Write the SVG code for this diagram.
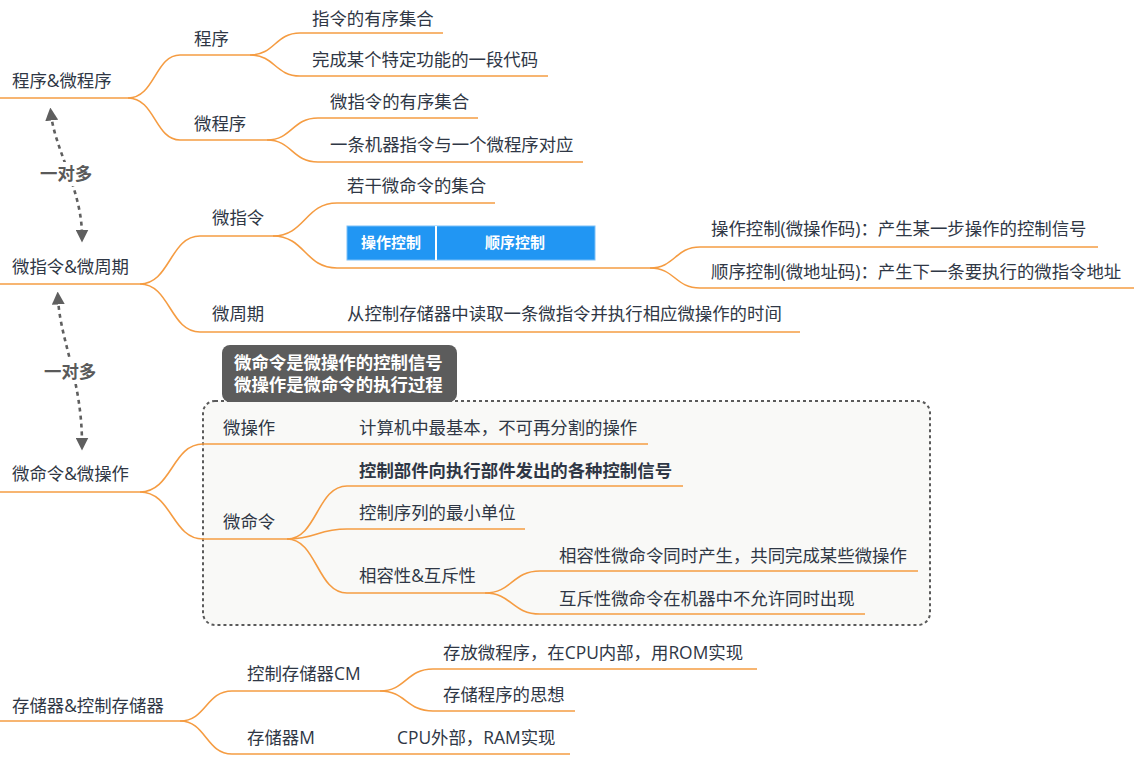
<svg xmlns="http://www.w3.org/2000/svg" width="1134" height="761" viewBox="0 0 1134 761">
<style>
  text { font-family: "Open Sans", "Noto Sans CJK SC", sans-serif; font-size: 17.4px; fill: #2f3745; }
  .b { font-weight: bold; }
  .ln { fill: none; stroke: #f59c42; stroke-width: 1.6; }
  .rel { fill: none; stroke: #5f5f5f; stroke-width: 2.6; stroke-dasharray: 4 4; }
  .rl { font-weight: bold; fill: #5a5a5a; }
  .tb { font-size: 15px; font-weight: bold; fill: #ffffff; }
  .nt { font-weight: bold; fill: #ffffff; }
</style>
<defs>
  <marker id="ah" viewBox="0 0 10 10" refX="5" refY="5" markerWidth="5" markerHeight="5" orient="auto-start-reverse" markerUnits="strokeWidth">
    <path d="M0 0 L10 5 L0 10 Z" fill="#5f5f5f"/>
  </marker>
</defs>
<rect width="1134" height="761" fill="#ffffff"/>

<!-- boundary -->
<g id="boundary">
  <rect x="203" y="401" width="727" height="224" rx="12" fill="#f9f9f7" stroke="#5a5a5a" stroke-width="2" stroke-dasharray="3 3"/>
  <rect x="222" y="345" width="235" height="57" rx="8" fill="#5c5c5c"/>
  <text class="nt" x="234" y="369">微命令是微操作的控制信号</text>
  <text class="nt" x="234" y="391">微操作是微命令的执行过程</text>
</g>

<!-- connectors -->
<g id="connectors">
  <path class="ln" d="M128 98 C155 98,155 55,180 55"/>
  <path class="ln" d="M128 98 C155 98,155 140,180 140"/>
  <path class="ln" d="M250 55 C275 55,275 33,300 33"/>
  <path class="ln" d="M250 55 C275 55,275 76,300 76"/>
  <path class="ln" d="M267 140 C292 140,292 118,318 118"/>
  <path class="ln" d="M267 140 C292 140,292 162,318 162"/>

  <path class="ln" d="M140 284 C170 284,170 236,200 236"/>
  <path class="ln" d="M140 284 C170 284,170 332,200 332"/>
  <path class="ln" d="M273 236 C305 236,305 203,337 203"/>
  <path class="ln" d="M273 236 C305 236,305 268,337 268"/>
  <path class="ln" d="M650 268 C675 268,675 247,700 247"/>
  <path class="ln" d="M650 268 C675 268,675 288,700 288"/>
  <path class="ln" d="M337 332 H800"/>

  <path class="ln" d="M140 492 C172 492,172 444,203 444"/>
  <path class="ln" d="M140 492 C172 492,172 539,203 539"/>
  <path class="ln" d="M348 444 H648"/>
  <path class="ln" d="M287 539 C317 539,317 486,347 486"/>
  <path class="ln" d="M287 539 C317 539,317 529,347 529"/>
  <path class="ln" d="M287 539 C317 539,317 593,347 593"/>
  <path class="ln" d="M485 593 C512 593,512 571,540 571"/>
  <path class="ln" d="M485 593 C512 593,512 614,540 614"/>

  <path class="ln" d="M180 721 C206 721,206 691,232 691"/>
  <path class="ln" d="M180 721 C206 721,206 754,232 754"/>
  <path class="ln" d="M380 691 C406 691,406 669,433 669"/>
  <path class="ln" d="M380 691 C406 691,406 711,433 711"/>
  <path class="ln" d="M385 754 H570"/>

  <path class="rel" d="M51 114 C55 150,82 190,82 236" marker-start="url(#ah)" marker-end="url(#ah)"/>
  <rect x="38" y="162" width="56" height="24" fill="#ffffff"/>
  <text class="rl" x="40" y="180">一对多</text>
  <path class="rel" d="M58 298 C60 340,82 380,82 444" marker-start="url(#ah)" marker-end="url(#ah)"/>
  <rect x="42" y="360" width="56" height="24" fill="#ffffff"/>
  <text class="rl" x="44" y="378">一对多</text>
</g>

<!-- tree 1 -->
<g id="n-root1"><text x="12" y="87">程序&amp;微程序</text><path class="ln" d="M0 98 H128"/></g>
<g id="n-prog"><text x="194" y="45">程序</text><path class="ln" d="M180 55 H250"/></g>
<g id="n-prog-1"><text x="312" y="25">指令的有序集合</text><path class="ln" d="M300 33 H443"/></g>
<g id="n-prog-2"><text x="312" y="66">完成某个特定功能的一段代码</text><path class="ln" d="M300 76 H548"/></g>
<g id="n-mprog"><text x="194" y="130">微程序</text><path class="ln" d="M180 140 H267"/></g>
<g id="n-mprog-1"><text x="330" y="108">微指令的有序集合</text><path class="ln" d="M318 118 H478"/></g>
<g id="n-mprog-2"><text x="330" y="151">一条机器指令与一个微程序对应</text><path class="ln" d="M318 162 H583"/></g>

<!-- tree 2 -->
<g id="n-root2"><text x="12" y="273">微指令&amp;微周期</text><path class="ln" d="M0 284 H140"/></g>
<g id="n-minst"><text x="212" y="224">微指令</text><path class="ln" d="M200 236 H273"/></g>
<g id="n-minst-1"><text x="347" y="192">若干微命令的集合</text><path class="ln" d="M337 203 H495"/></g>
<g id="n-minst-table">
  <rect x="347" y="226" width="248" height="34" fill="#2196f3" stroke="#7cc0f7" stroke-width="1"/>
  <line x1="436" y1="226" x2="436" y2="260" stroke="#ffffff" stroke-width="2"/>
  <text class="tb" x="391" y="248" text-anchor="middle">操作控制</text>
  <text class="tb" x="515" y="248" text-anchor="middle">顺序控制</text>
  <path class="ln" d="M337 268 H650"/>
</g>
<g id="n-op"><text x="711" y="235">操作控制(微操作码)：产生某一步操作的控制信号</text><path class="ln" d="M700 247 H1098"/></g>
<g id="n-seq"><text x="711" y="278">顺序控制(微地址码)：产生下一条要执行的微指令地址</text><path class="ln" d="M700 288 H1134"/></g>
<g id="n-mcycle"><text x="212" y="320">微周期</text><path class="ln" d="M200 332 H337"/></g>
<g id="n-mcycle-1"><text x="347" y="320">从控制存储器中读取一条微指令并执行相应微操作的时间</text></g>

<!-- tree 3 -->
<g id="n-root3"><text x="12" y="480">微命令&amp;微操作</text><path class="ln" d="M0 492 H140"/></g>
<g id="n-mop"><text x="223" y="434">微操作</text><path class="ln" d="M203 444 H348"/></g>
<g id="n-mop-1"><text x="359" y="434">计算机中最基本，不可再分割的操作</text></g>
<g id="n-mcmd"><text x="223" y="528">微命令</text><path class="ln" d="M203 539 H287"/></g>
<g id="n-mcmd-1"><text class="b" x="359" y="477">控制部件向执行部件发出的各种控制信号</text><path class="ln" d="M347 486 H683"/></g>
<g id="n-mcmd-2"><text x="359" y="519">控制序列的最小单位</text><path class="ln" d="M347 529 H525"/></g>
<g id="n-mcmd-3"><text x="359" y="582">相容性&amp;互斥性</text><path class="ln" d="M347 593 H485"/></g>
<g id="n-compat"><text x="559" y="562">相容性微命令同时产生，共同完成某些微操作</text><path class="ln" d="M540 571 H918"/></g>
<g id="n-excl"><text x="559" y="605">互斥性微命令在机器中不允许同时出现</text><path class="ln" d="M540 614 H865"/></g>

<!-- tree 4 -->
<g id="n-root4"><text x="12" y="712">存储器&amp;控制存储器</text><path class="ln" d="M0 721 H180"/></g>
<g id="n-cm"><text x="247" y="680">控制存储器CM</text><path class="ln" d="M232 691 H380"/></g>
<g id="n-cm-1"><text x="443" y="659">存放微程序，在CPU内部，用ROM实现</text><path class="ln" d="M433 669 H757"/></g>
<g id="n-cm-2"><text x="443" y="701">存储程序的思想</text><path class="ln" d="M433 711 H575"/></g>
<g id="n-m"><text x="247" y="744">存储器M</text><path class="ln" d="M232 754 H385"/></g>
<g id="n-m-1"><text x="397" y="744">CPU外部，RAM实现</text></g>
</svg>
